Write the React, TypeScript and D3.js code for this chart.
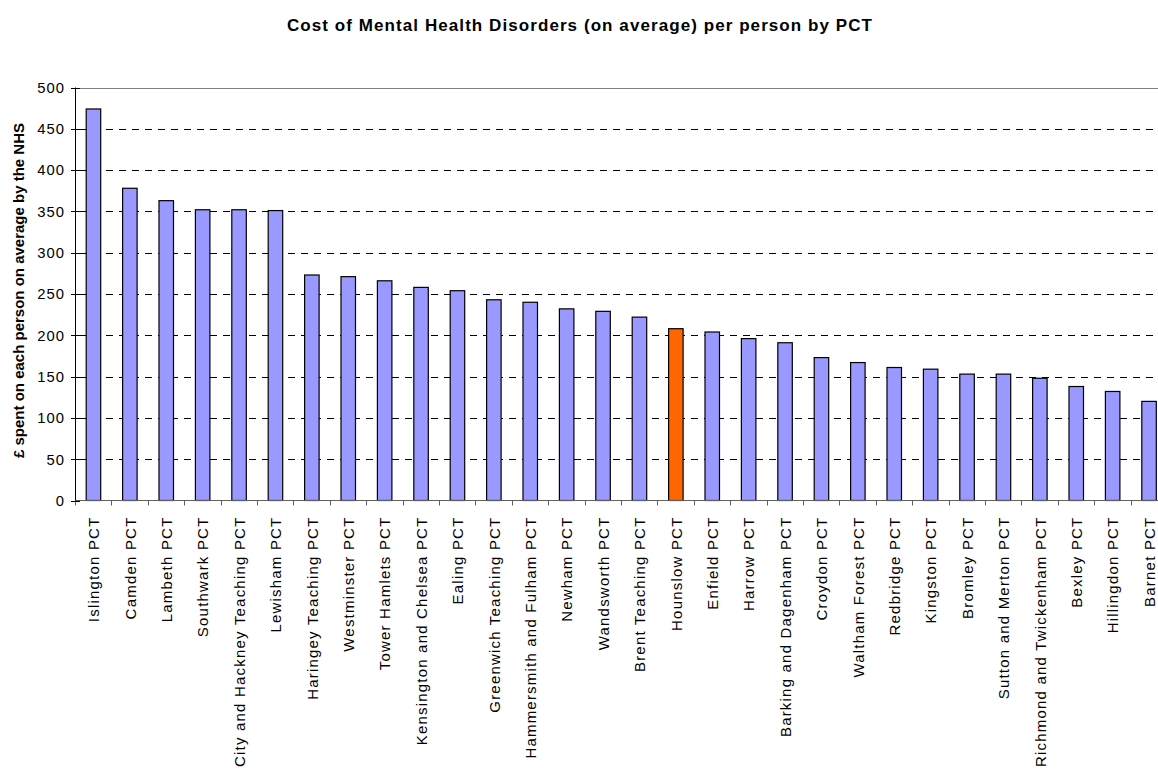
import { useRef, useEffect } from 'react';
import * as d3 from 'd3';

const categories = [
  'Islington PCT', 'Camden PCT', 'Lambeth PCT', 'Southwark PCT', 'City and Hackney Teaching PCT',
  'Lewisham PCT', 'Haringey Teaching PCT', 'Westminster PCT', 'Tower Hamlets PCT',
  'Kensington and Chelsea PCT', 'Ealing PCT', 'Greenwich Teaching PCT', 'Hammersmith and Fulham PCT',
  'Newham PCT', 'Wandsworth PCT', 'Brent Teaching PCT', 'Hounslow PCT', 'Enfield PCT', 'Harrow PCT',
  'Barking and Dagenham PCT', 'Croydon PCT', 'Waltham Forest PCT', 'Redbridge PCT', 'Kingston PCT',
  'Bromley PCT', 'Sutton and Merton PCT', 'Richmond and Twickenham PCT', 'Bexley PCT',
  'Hillingdon PCT', 'Barnet PCT',
];
const values = [
  474, 378, 363, 352, 352, 351, 273, 271, 266, 258, 254, 243, 240, 232, 229, 222, 208, 204, 196,
  191, 173, 167, 161, 159, 153, 153, 148, 138, 132, 120,
];
const highlight = 'Hounslow PCT';
const yTicks = [0, 50, 100, 150, 200, 250, 300, 350, 400, 450, 500];

const App = () => {
  const svgRef = useRef<SVGSVGElement>(null);

  useEffect(() => {
    const svg = d3.select(svgRef.current);
    svg.selectAll('*').remove();
    const left = 75, right = 1167, top = 87.5, bottom = 500.5;
    const font = 'Arial, "Liberation Sans", sans-serif';

    const x = d3.scaleBand().domain(categories).range([left, right]).paddingInner(0.6).paddingOuter(0.3);
    const y = d3.scaleLinear().domain([0, 500]).range([bottom, top]);

    svg.append('text')
      .attr('x', 579.5).attr('y', 31.3)
      .attr('text-anchor', 'middle')
      .attr('font-family', font).attr('font-weight', 'bold').attr('font-size', 17)
      .attr('textLength', 585).attr('lengthAdjust', 'spacing')
      .text('Cost of Mental Health Disorders (on average) per person by PCT');

    // dashed gridlines
    svg.append('g').selectAll('line')
      .data(yTicks.filter(t => t > 0 && t < 500))
      .join('line')
      .attr('x1', left + 5).attr('x2', right)
      .attr('y1', d => Math.round(y(d)) + 0.5).attr('y2', d => Math.round(y(d)) + 0.5)
      .attr('stroke', '#000').attr('stroke-dasharray', '7,6');

    svg.append('line')
      .attr('x1', left).attr('x2', right)
      .attr('y1', Math.round(y(500)) + 0.5).attr('y2', Math.round(y(500)) + 0.5)
      .attr('stroke', '#808080').attr('stroke-width', 1.2);

    // bars
    const bw = x.bandwidth();
    const step = x.step();
    svg.append('g').selectAll('rect')
      .data(categories)
      .join('rect')
      .attr('x', (d) => (x(d) as number) + bw / 2 - 7)
      .attr('width', 14.5)
      .attr('y', (d, i) => y(values[i]))
      .attr('height', (d, i) => bottom - y(values[i]))
      .attr('fill', d => d === highlight ? '#ff6600' : '#9999ff')
      .attr('stroke', '#000').attr('stroke-width', 1.2);

    // x axis
    const xa = svg.append('g');
    xa.append('line')
      .attr('x1', left).attr('x2', right).attr('y1', bottom).attr('y2', bottom)
      .attr('stroke', '#606060').attr('stroke-width', 1.2);
    xa.selectAll('line.tk')
      .data(d3.range(categories.length + 1))
      .join('line').attr('class', 'tk')
      .attr('x1', i => Math.round(left + i * step) + 0.5).attr('x2', i => Math.round(left + i * step) + 0.5)
      .attr('y1', bottom).attr('y2', bottom + 5)
      .attr('stroke', '#606060');
    xa.selectAll('text')
      .data(categories)
      .join('text')
      .attr('transform', d => `translate(${(x(d) as number) + bw / 2 + 6},${bottom + 16}) rotate(-90)`)
      .attr('text-anchor', 'end')
      .attr('font-family', font).attr('font-size', 15)
      .attr('letter-spacing', 1.2)
      .text(d => d);

    // y axis
    const ya = svg.append('g');
    ya.append('line')
      .attr('x1', left + 0.5).attr('x2', left + 0.5).attr('y1', top).attr('y2', bottom)
      .attr('stroke', '#000');
    ya.selectAll('line.tk')
      .data(yTicks)
      .join('line').attr('class', 'tk')
      .attr('x1', left - 4).attr('x2', left + 5)
      .attr('y1', d => Math.round(y(d)) + 0.5).attr('y2', d => Math.round(y(d)) + 0.5)
      .attr('stroke', '#000');
    ya.selectAll('text')
      .data(yTicks)
      .join('text')
      .attr('x', 65).attr('y', d => y(d) + 5.3)
      .attr('text-anchor', 'end')
      .attr('font-family', font).attr('font-size', 14.8)
      .attr('letter-spacing', 1)
      .text(d => d);

    svg.append('text')
      .attr('transform', `translate(24,290.5) rotate(-90)`)
      .attr('text-anchor', 'middle')
      .attr('font-family', font).attr('font-weight', 'bold').attr('font-size', 15)
      .text('£ spent on each person on average by the NHS');
  }, []);

  return (
    <svg ref={svgRef} width={1158} height={781} style={{ position: 'absolute', left: 0, top: 0, background: '#fff' }}></svg>
  );
};

export default App;
